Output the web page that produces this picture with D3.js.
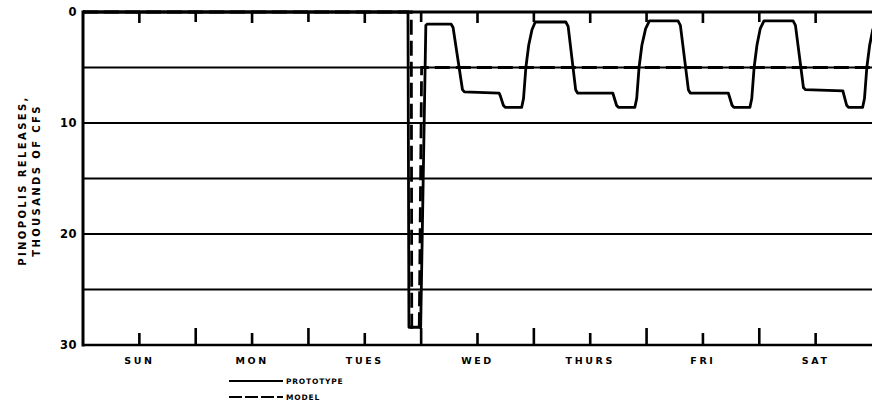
<!DOCTYPE html>
<html>
<head>
<meta charset="utf-8">
<script src="https://cdn.jsdelivr.net/npm/d3@7"></script>
<style>
  html, body { margin: 0; padding: 0; background: #fff; }
  svg { display: block; }
  text { font-family: "DejaVu Sans", sans-serif; font-weight: bold; fill: #000; }
</style>
</head>
<body>
<svg id="chart" width="872" height="413"></svg>
<script>
// Day names shown under the time axis (one week, hours 0-168 from Sunday 00:00)
const days = ["SUN", "MON", "TUES", "WED", "THURS", "FRI", "SAT"];
const dayBounds = [24, 48, 72, 96, 120, 144];
const dayMids = [12, 36, 60, 84, 108, 132, 156];
const yLabelTicks = [0, 10, 20, 30];
const gridValues = [5, 10, 15, 20, 25];

// Prototype releases: [hour of week, thousands of cfs]
const prototype = [
  [0, 0], [69.2, 0], [69.4, 28.4], [71.9, 28.4], [73.0, 1.2],
  [73.3, 1.1], [78.4, 1.1], [78.8, 1.4], [80.8, 7.0], [81.2, 7.2],
  [88.6, 7.3], [88.9, 7.6], [89.5, 8.4], [89.9, 8.6], [93.4, 8.6],
  [93.8, 7.8], [94.3, 5.0], [94.9, 3.0], [95.6, 1.6], [96.3, 0.9],
  [102.8, 0.9], [103.3, 1.3], [104.9, 7.0], [105.3, 7.3], [112.8, 7.3],
  [113.1, 7.7], [113.6, 8.4], [114.0, 8.6], [117.5, 8.6], [117.9, 7.8],
  [118.4, 5.0], [119.0, 3.0], [119.8, 1.5], [120.6, 0.8],
  [126.7, 0.8], [127.2, 1.2], [128.9, 7.0], [129.3, 7.3], [137.4, 7.3],
  [137.7, 7.7], [138.2, 8.4], [138.6, 8.6], [142.0, 8.6], [142.4, 7.8],
  [142.9, 5.0], [143.5, 3.0], [144.2, 1.5], [145.0, 0.8],
  [151.2, 0.8], [151.7, 1.2], [153.4, 6.8], [153.8, 7.0], [161.8, 7.1],
  [162.1, 7.6], [162.6, 8.4], [163.0, 8.6], [166.0, 8.6], [166.4, 7.8],
  [166.9, 5.0], [167.5, 3.0], [168.2, 1.5]
];

// Model releases: [hour of week, thousands of cfs]
const model = [
  [0, 0], [69.9, 0], [70.0, 28.4], [71.6, 28.4], [72.1, 5.0], [168.5, 5.0]
];

const svg = d3.select("#chart");
const plotLeft = 83, plotRight = 872, plotTop = 12, plotBottom = 345;

const x = d3.scaleLinear().domain([0, 168]).range([plotLeft, plotRight]);
const y = d3.scaleLinear().domain([0, 30]).range([plotTop, plotBottom]);

// Horizontal grid lines
svg.append("g").selectAll("line")
  .data(gridValues)
  .join("line")
  .attr("x1", plotLeft).attr("x2", plotRight + 2)
  .attr("y1", d => y(d)).attr("y2", d => y(d))
  .attr("stroke", "#000").attr("stroke-width", 2);

// Data lines
const line = d3.line().x(d => x(d[0])).y(d => y(d[1]));

svg.append("path")
  .datum(model)
  .attr("d", line)
  .attr("fill", "none")
  .attr("stroke", "#000")
  .attr("stroke-width", 2.8)
  .attr("stroke-dasharray", "15,6");

svg.append("path")
  .datum(prototype)
  .attr("d", line)
  .attr("fill", "none")
  .attr("stroke", "#000")
  .attr("stroke-width", 2.8)
  .attr("stroke-linejoin", "round");

// Frame: top, left and bottom axis lines
svg.append("line").attr("x1", plotLeft).attr("x2", plotRight + 2).attr("y1", plotTop).attr("y2", plotTop)
  .attr("stroke", "#000").attr("stroke-width", 3);
svg.append("line").attr("x1", plotLeft).attr("x2", plotLeft).attr("y1", plotTop - 1.5).attr("y2", plotBottom + 1.5)
  .attr("stroke", "#000").attr("stroke-width", 3);
svg.append("line").attr("x1", plotLeft).attr("x2", plotRight + 2).attr("y1", plotBottom).attr("y2", plotBottom)
  .attr("stroke", "#000").attr("stroke-width", 2.6);

// Inward tick marks: tall at day boundaries, short at mid-day
function drawTicks(values, edgeY, len) {
  svg.append("g").selectAll("rect")
    .data(values)
    .join("rect")
    .attr("x", d => x(d) - 1.3)
    .attr("width", 2.6)
    .attr("y", len < 0 ? edgeY + len : edgeY)
    .attr("height", Math.abs(len))
    .attr("fill", "#000");
}
drawTicks(dayBounds, plotBottom, -17);
drawTicks(dayMids, plotBottom, -12);
drawTicks(dayBounds, plotTop, 10);
drawTicks(dayMids, plotTop, 11);

// Day labels
svg.append("g").selectAll("text")
  .data(dayMids)
  .join("text")
  .attr("x", d => x(d))
  .attr("y", plotBottom + 19)
  .attr("text-anchor", "middle")
  .attr("font-size", 9.5)
  .attr("letter-spacing", 2.6)
  .text((d, i) => days[i]);

// Y-axis labels
svg.append("g").selectAll("text")
  .data(yLabelTicks)
  .join("text")
  .attr("x", plotLeft - 6)
  .attr("y", d => y(d) + 4)
  .attr("text-anchor", "end")
  .attr("font-size", 11.5)
  .attr("letter-spacing", 0.5)
  .text(d => d);

// Y-axis title (two lines)
const cy = (plotTop + plotBottom) / 2 + 2;
svg.append("text")
  .attr("transform", `translate(26,${cy}) rotate(-90)`)
  .attr("text-anchor", "middle")
  .attr("font-size", 10).attr("letter-spacing", 2.4)
  .text("PINOPOLIS RELEASES,");
svg.append("text")
  .attr("transform", `translate(40,${cy}) rotate(-90)`)
  .attr("text-anchor", "middle")
  .attr("font-size", 10).attr("letter-spacing", 2.4)
  .text("THOUSANDS OF CFS");

// Legend
const legend = [
  { label: "PROTOTYPE", dash: null },
  { label: "MODEL", dash: "13,3" }
];
const lg = svg.append("g").attr("transform", "translate(229,381)");
legend.forEach((d, i) => {
  const row = lg.append("g").attr("transform", `translate(0,${i * 16})`);
  row.append("line").attr("x1", 0).attr("x2", 54).attr("y1", 0).attr("y2", 0)
    .attr("stroke", "#000").attr("stroke-width", 2.2)
    .attr("stroke-dasharray", d.dash);
  row.append("text").attr("x", 57).attr("y", 3.2)
    .attr("font-size", 7.5).attr("letter-spacing", 0.8)
    .text(d.label);
});
</script>
</body>
</html>
